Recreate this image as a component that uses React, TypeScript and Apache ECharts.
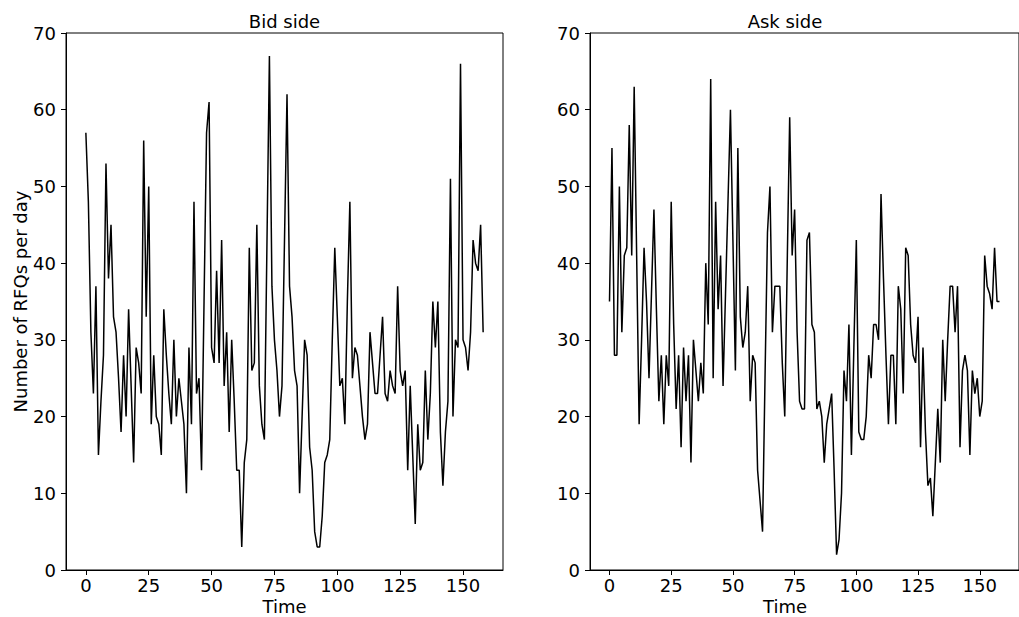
import { useEffect, useRef } from "react";
import * as echarts from "echarts";

const bidSide: number[] = [
  57, 48, 31, 23, 37, 15, 22, 28, 53, 38,
  45, 33, 31, 25, 18, 28, 20, 34, 24, 14,
  29, 27, 23, 56, 33, 50, 19, 28, 20, 19,
  15, 34, 28, 23, 19, 30, 20, 25, 22, 19,
  10, 29, 19, 48, 23, 25, 13, 35, 57, 61,
  29, 27, 39, 27, 43, 24, 31, 18, 30, 22,
  13, 13, 3, 14, 17, 42, 26, 27, 45, 24,
  19, 17, 42, 67, 37, 30, 26, 20, 24, 43,
  62, 37, 33, 26, 24, 10, 20, 30, 28, 16,
  13, 5, 3, 3, 7, 14, 15, 17, 30, 42,
  33, 24, 25, 19, 35, 48, 25, 29, 28, 24,
  20, 17, 19, 31, 27, 23, 23, 28, 33, 23,
  22, 26, 24, 23, 37, 26, 24, 26, 13, 24,
  15, 6, 19, 13, 14, 26, 17, 23, 35, 29,
  35, 18, 11, 18, 22, 51, 20, 30, 29, 66,
  30, 29, 26, 31, 43, 40, 39, 45, 31,
];

const askSide: number[] = [
  35, 55, 28, 28, 50, 31, 41, 42, 58, 41,
  63, 41, 19, 30, 42, 35, 25, 36, 47, 34,
  22, 28, 19, 28, 24, 48, 32, 21, 28, 16,
  29, 22, 28, 14, 30, 26, 22, 27, 23, 40,
  32, 64, 25, 48, 34, 41, 24, 36, 48, 60,
  43, 26, 55, 33, 29, 31, 37, 22, 28, 27,
  13, 9, 5, 25, 44, 50, 31, 37, 37, 37,
  27, 20, 40, 59, 41, 47, 31, 22, 21, 21,
  43, 44, 32, 31, 21, 22, 20, 14, 19, 21,
  23, 13, 2, 4, 10, 26, 22, 32, 15, 29,
  43, 18, 17, 17, 20, 28, 25, 32, 32, 30,
  49, 38, 28, 19, 28, 28, 19, 37, 34, 23,
  42, 41, 32, 28, 27, 33, 16, 29, 18, 11,
  12, 7, 14, 21, 14, 30, 22, 30, 37, 37,
  31, 37, 16, 26, 28, 26, 15, 26, 23, 25,
  20, 22, 41, 37, 36, 34, 42, 35, 35,
];

const xTickValues: number[] = [0, 25, 50, 75, 100, 125, 150];
const titles: string[] = ["Bid side", "Ask side"];
const yAxisTitle = "Number of RFQs per day";
const xAxisTitle = "Time";

export default function App() {
  const ref = useRef<HTMLDivElement>(null);

  useEffect(() => {
    if (!ref.current) return;
    const chart = echarts.init(ref.current, null, { renderer: "svg" });
    const font = "DejaVu Sans";
    const fs = 18;
    const gridLefts = [66, 590];
    const gridWidth = 437;
    const labelCenters = [284.5, 785];

    const mkX = (gi: number) => ({
      type: "value",
      gridIndex: gi,
      min: -7.9,
      max: 165.9,
      splitLine: { show: false },
      axisLine: { show: true, onZero: false, lineStyle: { color: "#000", width: 1 } },
      axisTick: {
        show: true,
        length: 5,
        customValues: xTickValues,
        lineStyle: { color: "#000", width: 1 },
      },
      axisLabel: {
        customValues: xTickValues,
        color: "#000",
        fontSize: fs,
        lineHeight: 18,
        fontFamily: font,
        margin: 6,
      },
    });

    const mkY = (gi: number, withName: boolean) => ({
      type: "value",
      gridIndex: gi,
      min: 0,
      max: 70,
      interval: 10,
      splitLine: { show: false },
      axisLine: { show: true, onZero: false, lineStyle: { color: "#000", width: 1 } },
      axisTick: { show: true, length: 5, lineStyle: { color: "#000", width: 1 } },
      axisLabel: { color: "#000", fontSize: fs, fontFamily: font, margin: 10 },
      name: withName ? yAxisTitle : "",
      nameLocation: "middle",
      nameGap: 37,
      nameTextStyle: { color: "#000", fontSize: fs, fontFamily: font },
    });

    const toPairs = (arr: number[]) => arr.map((v, i) => [i, v]);

    const textTitle = (text: string, center: number, top: number) => ({
      text,
      left: center,
      top,
      padding: 0,
      textAlign: "center",
      textStyle: {
        color: "#000",
        fontSize: fs,
        lineHeight: 18,
        fontWeight: "normal",
        fontFamily: font,
      },
    });

    chart.setOption({
      animation: false,
      backgroundColor: "#fff",
      title: [
        ...titles.map((t, i) => textTitle(t, labelCenters[i], 12)),
        ...labelCenters.map((c) => textTitle(xAxisTitle, c, 597)),
      ],
      grid: gridLefts.map((l) => ({
        left: l,
        top: 33,
        width: gridWidth,
        height: 537,
        show: true,
        borderColor: "#000",
        borderWidth: 1,
        backgroundColor: "transparent",
      })),
      xAxis: [mkX(0), mkX(1)],
      yAxis: [mkY(0, true), mkY(1, false)],
      series: [
        {
          type: "line",
          xAxisIndex: 0,
          yAxisIndex: 0,
          data: toPairs(bidSide),
          showSymbol: false,
          lineStyle: { color: "#000", width: 1.5 },
          itemStyle: { color: "#000" },
        },
        {
          type: "line",
          xAxisIndex: 1,
          yAxisIndex: 1,
          data: toPairs(askSide),
          showSymbol: false,
          lineStyle: { color: "#000", width: 1.5 },
          itemStyle: { color: "#000" },
        },
      ],
    });

    return () => chart.dispose();
  }, []);

  return (
    <div
      ref={ref}
      style={{ position: "absolute", left: 0, top: 0, width: 1019, height: 617 }}
    />
  );
}
